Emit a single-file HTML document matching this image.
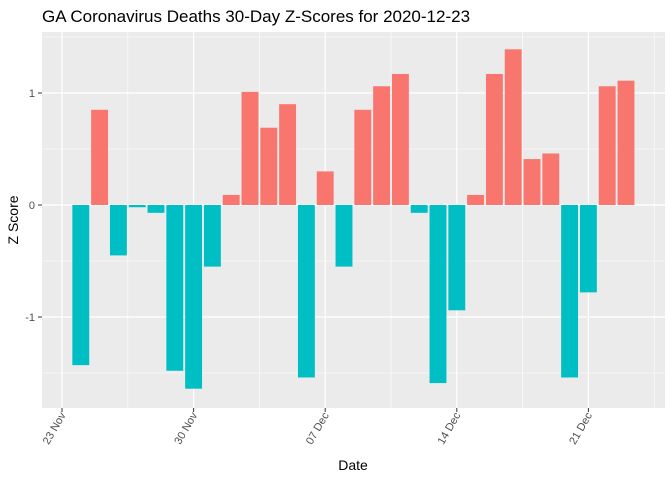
<!DOCTYPE html>
<html><head><meta charset="utf-8"><style>
body{margin:0;background:#fff;font-family:"Liberation Sans",sans-serif}
</style></head><body>
<svg id="chart" width="672" height="480" xmlns="http://www.w3.org/2000/svg" font-family="Liberation Sans, sans-serif">
<rect width="672" height="480" fill="#fff"/>
<text x="42" y="22" font-size="17" fill="#000">GA Coronavirus Deaths 30-Day Z-Scores for 2020-12-23</text>
<rect x="42" y="32" width="623" height="376" fill="#EBEBEB"/>
<g id="grid"></g>
<g id="bars"></g>
<g id="axes"></g>
<text x="353" y="470" font-size="14" text-anchor="middle">Date</text>
<text transform="translate(18,220) rotate(-90)" font-size="14" text-anchor="middle">Z Score</text>
</svg>
<script>
const days = [24,25,26,27,28,29,30,31,32,33,34,35,36,37,38,39,40,41,42,43,44,45,46,47,48,49,50,51,52,53];
const zscores = [-1.43,0.85,-0.45,-0.02,-0.07,-1.48,-1.64,-0.55,0.09,1.01,0.69,0.90,-1.54,0.30,-0.55,0.85,1.06,1.17,-0.07,-1.59,-0.94,0.09,1.17,1.39,0.41,0.46,-1.54,-0.78,1.06,1.11];
const xTickDays = [23,30,37,44,51];
const xTickLabels = ["23 Nov","30 Nov","07 Dec","14 Dec","21 Dec"];
const yTicks = [-1,0,1];
const yMinor = [-1.5,-0.5,0.5,1.5];
const NS="http://www.w3.org/2000/svg";
const X=d=>62+(d-23)*18.8;
const Y=v=>205-v*112;
function mk(t,a,p){const e=document.createElementNS(NS,t);for(const k in a)e.setAttribute(k,a[k]);p.appendChild(e);return e;}
const grid=document.getElementById('grid'),bars=document.getElementById('bars'),axes=document.getElementById('axes');
yMinor.forEach(v=>{const y=Y(v);if(y<32||y>408)return;const l=mk('line',{x1:42,x2:665,y1:y,y2:y,stroke:'#fff','stroke-width':0.6},grid);

});
xTickDays.forEach((d,i)=>{const m=mk('line',{x1:X(d+3.5),x2:X(d+3.5),y1:32,y2:408,stroke:'#fff','stroke-width':0.6},grid);

});
const m0=mk('line',{x1:X(19.5),x2:X(19.5),y1:32,y2:408,stroke:'#fff','stroke-width':0.6},grid);


yTicks.forEach(v=>{const y=Y(v);const l=mk('line',{x1:42,x2:665,y1:y,y2:y,stroke:'#fff','stroke-width':1.2},grid);


mk('line',{x1:38,x2:42,y1:y,y2:y,stroke:'#333'},axes);
const t=mk('text',{x:35,y:y+4,'font-size':11,'text-anchor':'end',fill:'#4D4D4D'},axes);t.textContent=v;

});
xTickDays.forEach((d,i)=>{const x=X(d);const l=mk('line',{x1:x,x2:x,y1:32,y2:408,stroke:'#fff','stroke-width':1.2},grid);


mk('line',{x1:x,x2:x,y1:408,y2:412,stroke:'#333'},axes);
const t=mk('text',{transform:`translate(${x+4},${415}) rotate(-60)`,'font-size':11,'text-anchor':'end',fill:'#4D4D4D'},axes);t.textContent=xTickLabels[i];

});
days.forEach((d,i)=>{const v=zscores[i];const w=16.9;const y0=Y(0),y1=Y(v);
const r=mk('rect',{x:X(d)-w/2,y:Math.min(y0,y1),width:w,height:Math.abs(y1-y0),fill:v>=0?'#F8766D':'#00BFC4'},bars);

});
</script>
</body></html>
